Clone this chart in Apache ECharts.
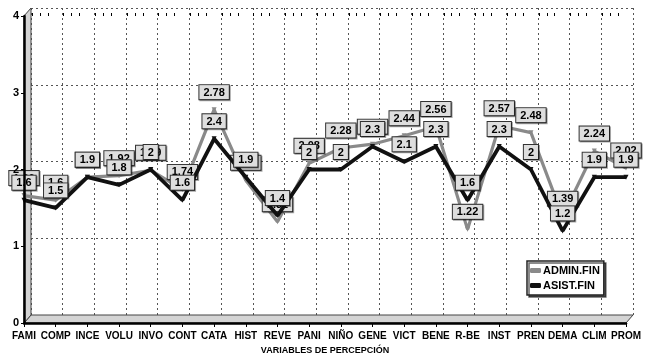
<!DOCTYPE html>
<html>
<head>
<meta charset="utf-8">
<script src="https://cdn.jsdelivr.net/npm/echarts@6/dist/echarts.min.js"></script>
<style>
  html, body { margin: 0; padding: 0; background: #fff; }
  #chart { width: 650px; height: 359px; }
</style>
</head>
<body>
<div id="chart"></div>
<script>
const categories = ['FAMI', 'COMP', 'INCE', 'VOLU', 'INVO', 'CONT', 'CATA', 'HIST', 'REVE', 'PANI',
  'NIÑO', 'GENE', 'VICT', 'BENE', 'R-BE', 'INST', 'PREN', 'DEMA', 'CLIM', 'PROM'];
const adminFin = [1.66, 1.6, 1.9, 1.92, 1.99, 1.74, 2.78, 1.86, 1.32, 2.08,
  2.28, 2.33, 2.44, 2.56, 1.22, 2.57, 2.48, 1.39, 2.24, 2.02];
const asistFin = [1.6, 1.5, 1.9, 1.8, 2, 1.6, 2.4, 1.9, 1.4, 2,
  2, 2.3, 2.1, 2.3, 1.6, 2.3, 2, 1.2, 1.9, 1.9];

const font = "'Liberation Sans Narrow', 'Arial Narrow', 'Liberation Sans', sans-serif";

// front plot box and 3d depth offset
const L = 24, R = 626, T = 16, B = 323, dx = 7, dy = -8;

const chart = echarts.init(document.getElementById('chart'));

const labelStyle = {
  show: true,
  position: 'top',
  distance: 8,
  fontFamily: font,
  fontWeight: 'bold',
  fontSize: 11,
  color: '#000',
  backgroundColor: '#dedede',
  borderColor: '#333',
  borderWidth: 1,
  padding: [2, 4, 1, 4],
  shadowColor: 'rgba(0,0,0,0.35)',
  shadowOffsetX: 1,
  shadowOffsetY: 1,
  shadowBlur: 0
};

const option = {
  backgroundColor: '#fff',
  animation: false,
  grid: [
    { left: L, right: 650 - R, top: T, bottom: 359 - B, outerBoundsMode: 'none', containLabel: false },
    { left: L + dx, right: 650 - R - dx, top: T + dy, bottom: 359 - B - dy, outerBoundsMode: 'none', containLabel: false }
  ],
  graphic: [
    {
      type: 'polygon', z: 1, silent: true,
      shape: { points: [[L, B], [R, B], [R + dx, B + dy], [L + dx, B + dy]] },
      style: { fill: '#d4d4d4', stroke: '#444', lineWidth: 1 }
    },
    {
      type: 'polygon', z: 1, silent: true,
      shape: { points: [[L, B], [L, T], [L + dx, T + dy], [L + dx, B + dy]] },
      style: { fill: '#d4d4d4', stroke: '#444', lineWidth: 1 }
    }
  ],
  legend: {
    left: 527,
    top: 261,
    orient: 'vertical',
    data: ['ADMIN.FIN', 'ASIST.FIN'],
    itemWidth: 11,
    itemHeight: 5,
    itemGap: 4,
    icon: 'roundRect',
    padding: [4, 4, 4, 3],
    backgroundColor: '#fff',
    borderColor: '#222',
    borderWidth: 1.5,
    shadowColor: 'rgba(0,0,0,0.6)',
    shadowOffsetX: 2,
    shadowOffsetY: 2,
    textStyle: { fontFamily: font, fontWeight: 'bold', fontSize: 11, color: '#000', padding: [0, 0, 0, -3] }
  },
  xAxis: [
    {
      type: 'category', gridIndex: 0, data: categories, boundaryGap: false,
      axisLine: { lineStyle: { color: '#000', width: 2.5 } },
      axisTick: { length: 4, interval: 0, lineStyle: { color: '#000' } },
      axisLabel: { interval: 0, fontFamily: font, fontWeight: 'bold', fontSize: 10, color: '#000', margin: 8 },
      name: 'VARIABLES DE PERCEPCIÓN', nameLocation: 'middle', nameGap: 23,
      nameTextStyle: { fontFamily: font, fontWeight: 'bold', fontSize: 9, color: '#000' },
      splitLine: { show: false }, z: 5
    },
    {
      type: 'category', gridIndex: 1, data: categories, boundaryGap: false,
      axisLine: { show: false }, axisTick: { show: false }, axisLabel: { show: false },
      splitLine: { show: true, interval: 0, lineStyle: { color: '#555', type: [2, 3], width: 1 } }
    },
    {
      // only for the small minor ticks between categories
      type: 'value', gridIndex: 0, min: 0, max: categories.length - 1, interval: 1,
      axisLine: { show: false }, axisLabel: { show: false }, splitLine: { show: false },
      axisTick: { show: false },
      minorTick: { show: true, splitNumber: 4, length: 3, lineStyle: { color: '#000' } },
      z: 5
    }
  ],
  yAxis: [
    {
      type: 'value', gridIndex: 0, min: 0, max: 4, interval: 1,
      axisLine: { show: true, lineStyle: { color: '#000', width: 2.5 } },
      axisTick: { show: true, length: 3, lineStyle: { color: '#000' } },
      axisLabel: { fontFamily: font, fontWeight: 'bold', fontSize: 11, color: '#000', margin: 5 },
      splitLine: { show: false },
      name: 'VALORES DE PERCEPCIÓN', nameLocation: 'middle', nameGap: 13,
      nameTextStyle: { fontFamily: font, fontWeight: 'bold', fontSize: 10, color: '#000' }, z: 5
    },
    {
      type: 'value', gridIndex: 1, min: 0, max: 4, interval: 1,
      axisLine: { show: false }, axisTick: { show: false }, axisLabel: { show: false },
      splitLine: { show: true, lineStyle: { color: '#555', type: [2, 3], width: 1 } }
    }
  ],
  series: [
    {
      name: 'ADMIN.FIN', type: 'line', xAxisIndex: 0, yAxisIndex: 0,
      data: adminFin, color: '#8a8a8a',
      symbol: 'triangle', symbolRotate: 180, symbolSize: 5, z: 3,
      lineStyle: { color: '#8a8a8a', width: 3.2 },
      itemStyle: { color: '#8a8a8a' },
      label: labelStyle
    },
    {
      name: 'ASIST.FIN', type: 'line', xAxisIndex: 0, yAxisIndex: 0,
      data: asistFin, color: '#111',
      symbol: 'triangle', symbolRotate: 180, symbolSize: 5, z: 4,
      lineStyle: { color: '#111', width: 3.8 },
      itemStyle: { color: '#111' },
      label: labelStyle
    }
  ]
};

chart.setOption(option);
</script>
</body>
</html>
